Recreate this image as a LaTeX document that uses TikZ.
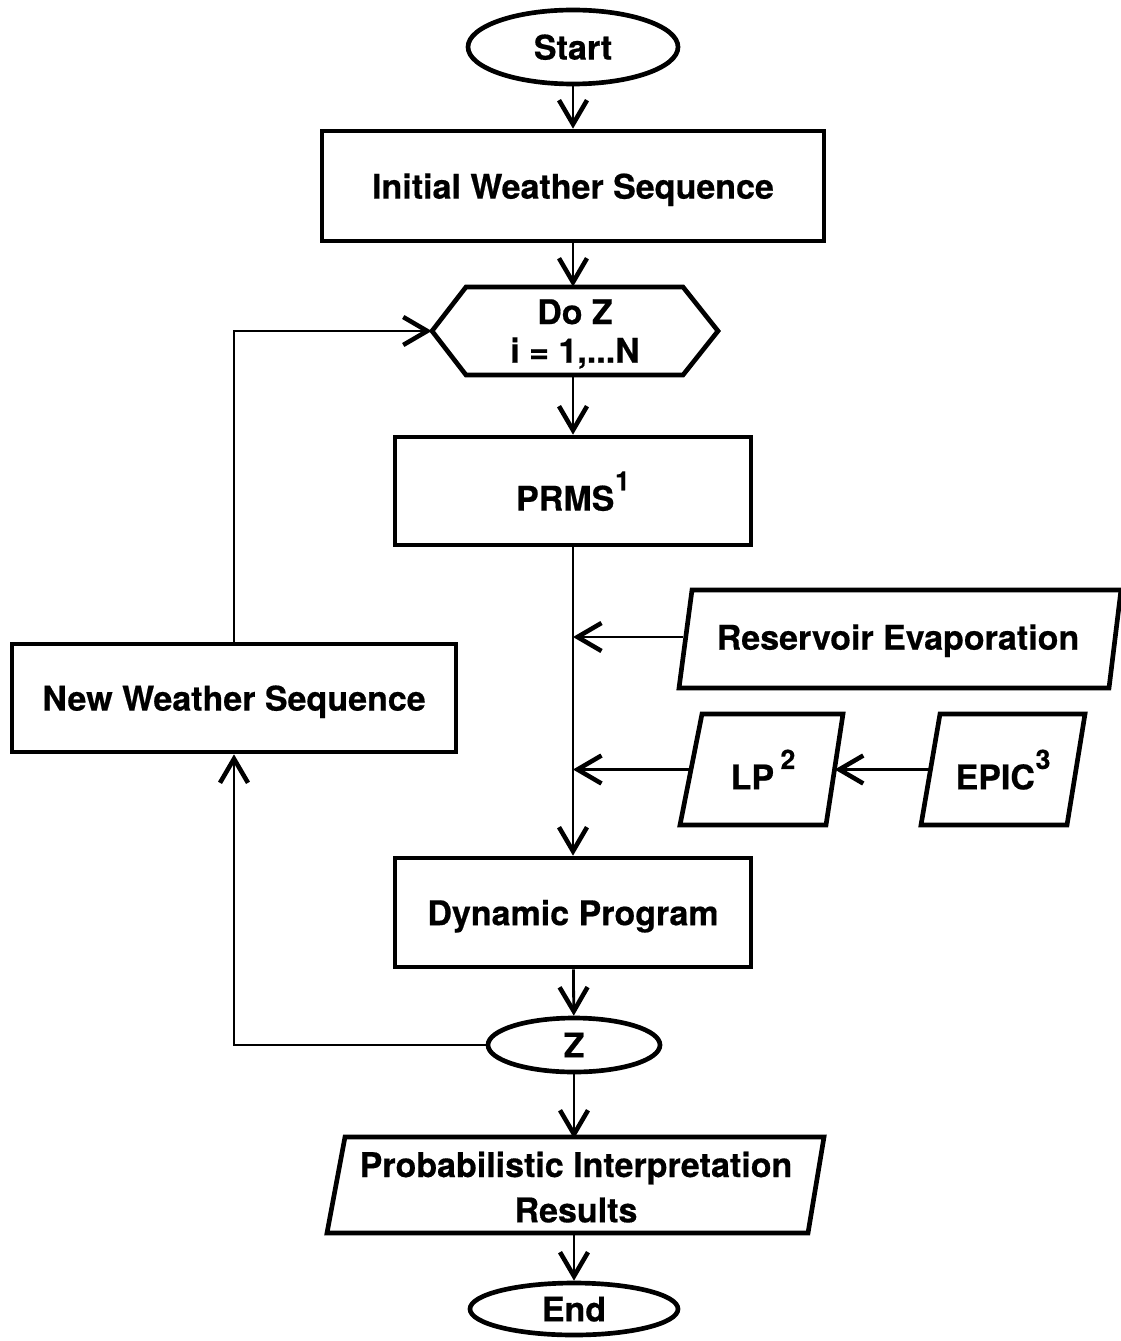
\documentclass[tikz,border=0pt]{standalone}
\usepackage{fontspec}
\setmainfont{TeX Gyre Heros}[BoldFeatures={FakeBold=0.5}]
\usetikzlibrary{arrows.meta,shapes.geometric}
\newlength\pxu
\setlength\pxu{0.75pt}
\newcommand\supnum[1]{\hspace{0.02em}\raisebox{0.6em}{\fontsize{20}{20}\selectfont #1}}
\begin{document}
\begin{tikzpicture}[x=0.75pt,y=-0.75pt,
  font=\fontsize{25.5}{30}\selectfont\bfseries,
  shp/.style={line width=3.5pt},
  box/.style={draw, shp, rectangle, inner sep=0pt, text depth=0pt},
  oval/.style={draw, shp, ellipse, inner sep=0pt, text depth=0pt},
  ghost/.style={rectangle, inner sep=0pt, text depth=0pt},
  conn/.style={line width=2.1pt, -{Straight Barb[length=18pt,width=21pt,line width=3.4pt]}}]
\useasboundingbox (0,0) rectangle (1120,1341);

% nodes
\node[oval, minimum width={210\pxu}, minimum height={74\pxu}] (start) at (573,47) {Start};
\node[box, minimum width={502\pxu}, minimum height={110\pxu}] (iws) at (573,186) {Initial Weather Sequence};
\node[ghost, minimum width={286\pxu}, minimum height={88\pxu}, align=center,
      font=\fontsize{25.5}{29}\selectfont\bfseries] (hex) at (575,331) {Do Z\\i = 1,...N};
\draw[shp] (432,331) -- (466,287) -- (683,287) -- (718,331) -- (683,375) -- (466,375) -- cycle;
\node[box, minimum width={356\pxu}, minimum height={108\pxu}] (prms) at (573,491) {PRMS\supnum{1}};
\node[ghost, minimum width={429\pxu}, minimum height={98\pxu}] (res) at (898,637) {Reservoir Evaporation};
\draw[shp] (679,688) -- (692,590) -- (1121,590) -- (1109,688) -- cycle;
\node[ghost, minimum width={143\pxu}, minimum height={111\pxu}] (lp) at (763,769.5) {LP\,\supnum{2}};
\draw[shp] (680,825) -- (702,714) -- (843,714) -- (826,825) -- cycle;
\node[ghost, minimum width={145\pxu}, minimum height={111\pxu}] (epic) at (1003,769.5) {EPIC\supnum{3}};
\draw[shp] (921,825) -- (940,714) -- (1085,714) -- (1067,825) -- cycle;
\node[box, minimum width={356\pxu}, minimum height={109\pxu}] (dp) at (573,912.5) {Dynamic Program};
\node[oval, minimum width={172\pxu}, minimum height={54\pxu}] (z) at (574,1045) {Z};
\node[box, minimum width={444\pxu}, minimum height={108\pxu}] (nws) at (234,698) {New Weather Sequence};
\node[ghost, minimum width={480\pxu}, minimum height={96\pxu}, align=center,
      font=\fontsize{25.5}{34}\selectfont\bfseries] (prob) at (576,1187) {Probabilistic Interpretation\\Results};
\draw[shp] (327,1233) -- (345,1137) -- (824,1137) -- (808,1233) -- cycle;
\node[oval, minimum width={208\pxu}, minimum height={52\pxu}] (end) at (574,1309) {End};

\coordinate (j1) at (res.west -| prms);
\coordinate (j2) at (lp.west -| prms);

% connectors
\draw[conn] (start) -- (iws);
\draw[conn] (iws) -- (hex.north -| iws);
\draw[conn] (hex.south -| prms) -- (prms);
\draw[conn] (prms) -- (dp);
\draw[conn] (res.west) -- (j1);
\draw[conn] (lp.west) -- (j2);
\draw[conn] (epic.west) -- (lp.east);
\draw[conn] (dp) -- (z);
\draw[conn] (z) -- (prob.north -| z);
\draw[conn] (prob.south -| end) -- (end);
\draw[conn] (z.west) -| (nws.south);
\draw[conn] (nws.north) |- (hex.west);
\end{tikzpicture}
\end{document}
